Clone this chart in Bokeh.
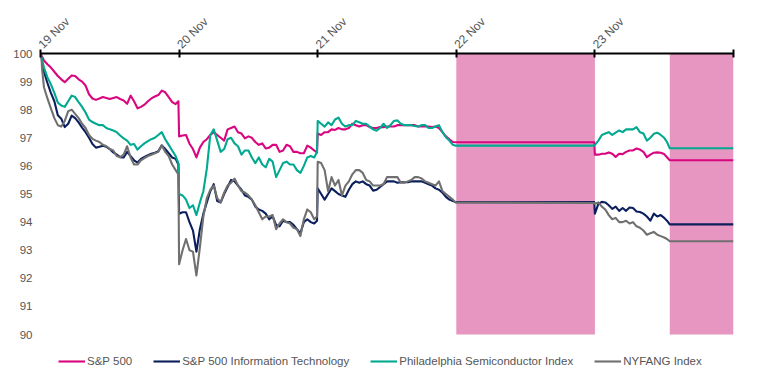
import math
from bokeh.plotting import figure
from bokeh.models import (Range1d, FixedTicker, Legend, LegendItem,
                          CustomJSTickFormatter)
from bokeh.embed import file_html
from bokeh.resources import INLINE

# ---------------- data ----------------
DAY_LABELS = ["19 Nov", "20 Nov", "21 Nov", "22 Nov", "23 Nov", ""]
DAY_TICKS = [0, 1, 2, 3, 4, 5]
Y_TICKS = [90, 91, 92, 93, 94, 95, 96, 97, 98, 99, 100]

# market closed periods (days since 19 Nov open)
CLOSED_START = [3.0, 4.54]
CLOSED_END = [4.0, 5.0]

# intraday sampling points within a full session (fraction of the day)
SESSION = [0.0, 0.025, 0.05, 0.075, 0.1, 0.125, 0.15, 0.175, 0.2, 0.225,
           0.25, 0.275, 0.3, 0.325, 0.35, 0.375, 0.4, 0.425, 0.45, 0.475,
           0.5, 0.525, 0.55, 0.575, 0.6, 0.625, 0.65, 0.675, 0.7, 0.725,
           0.75, 0.775, 0.8, 0.825, 0.85, 0.875, 0.9, 0.925, 0.95, 0.975,
           0.995]
# 22 Nov: market closed (Thanksgiving) -> last close carried to day end
T22 = [3.995]
# 23 Nov: half-day session, then closed
T23 = [4.0, 4.025, 4.05, 4.075, 4.1, 4.125, 4.15, 4.175, 4.2, 4.225, 4.25,
       4.275, 4.3, 4.325, 4.35, 4.375, 4.4, 4.425, 4.45, 4.475, 4.5, 4.52,
       4.54, 5.0]
TIME = ([0 + f for f in SESSION] + [1 + f for f in SESSION]
        + [2 + f for f in SESSION] + T22 + T23)

SERIES = ["S&P 500", "S&P 500 Information Technology",
          "Philadelphia Semiconductor Index", "NYFANG Index"]

SPX = (
    [100, 99.75, 99.62, 99.5, 99.35, 99.2, 99.08, 98.98, 99.1, 99.22,
     99.2, 99.08, 99.0, 98.86, 98.55, 98.4, 98.35, 98.4, 98.45, 98.42,
     98.38, 98.42, 98.45, 98.38, 98.33, 98.21, 98.5, 98.3, 98.05, 98.1,
     98.18, 98.3, 98.4, 98.47, 98.52, 98.68, 98.62, 98.45, 98.27, 98.2,
     98.3]
    + [97.05, 97.08, 97.1, 96.79, 96.6, 96.3, 96.65, 96.85, 96.95, 97.1,
       97.2, 97.1, 97.0, 96.9, 97.3, 97.35, 97.4, 97.2, 97.15, 96.98,
       97.05, 97.0, 96.85, 96.75, 96.8, 96.62, 96.65, 96.75, 96.75, 96.5,
       96.55, 96.75, 96.7, 96.5, 96.5, 96.45, 96.45, 96.72, 96.65, 96.55,
       96.48]
    + [97.15, 97.1, 97.2, 97.2, 97.3, 97.28, 97.35, 97.3, 97.3, 97.35,
       97.5, 97.45, 97.4, 97.45, 97.45, 97.38, 97.35, 97.35, 97.38, 97.38,
       97.4, 97.4, 97.4, 97.45, 97.45, 97.45, 97.45, 97.45, 97.45, 97.4,
       97.4, 97.4, 97.4, 97.38, 97.4, 97.35, 97.2, 97.05, 96.95, 96.85,
       96.84]
    + [96.84]
    + [96.4, 96.4, 96.43, 96.43, 96.48, 96.43, 96.32, 96.43, 96.42, 96.5,
       96.55, 96.55, 96.62, 96.58, 96.5, 96.31, 96.4, 96.47, 96.48, 96.47,
       96.42, 96.31, 96.2, 96.2])

SPX_IT = (
    [100, 99.35, 98.95, 98.6, 98.3, 97.8, 97.68, 97.38, 97.5, 97.79,
     97.7, 97.55, 97.36, 97.2, 97.0, 96.78, 96.65, 96.68, 96.72, 96.68,
     96.6, 96.48, 96.4, 96.31, 96.3, 96.5, 96.35, 96.2, 96.12, 96.25,
     96.32, 96.38, 96.43, 96.47, 96.52, 96.73, 96.6, 96.45, 96.3, 96.25,
     96.05]
    + [94.3, 94.35, 94.35, 94.0, 93.7, 92.95, 93.75, 94.3, 94.7, 95.1,
       95.35, 94.75, 94.7, 95.0, 95.25, 95.5, 95.45, 95.3, 95.15, 94.95,
       94.9, 94.8, 94.55, 94.45, 94.4, 94.3, 94.1, 94.2, 93.9, 93.85,
       94.05, 94.0, 94.0, 93.9, 93.75, 93.6, 94.0, 94.1, 94.0, 93.95,
       94.05]
    + [95.2, 95.0, 94.8, 95.0, 95.2, 95.1, 95.0, 94.95, 94.9, 95.15,
       95.35, 95.45, 95.4, 95.45, 95.35, 95.3, 95.12, 95.15, 95.25, 95.35,
       95.45, 95.45, 95.45, 95.4, 95.42, 95.42, 95.42, 95.45, 95.45, 95.45,
       95.45, 95.4, 95.35, 95.3, 95.2, 95.15, 95.05, 94.9, 94.8, 94.75,
       94.71]
    + [94.71]
    + [94.3, 94.65, 94.72, 94.7, 94.6, 94.47, 94.55, 94.4, 94.5, 94.4,
       94.52, 94.5, 94.38, 94.36, 94.3, 94.2, 94.05, 94.3, 94.2, 94.25,
       94.15, 94.05, 93.92, 93.92])

SOX = (
    [100, 99.5, 99.15, 98.9, 98.6, 98.25, 98.15, 98.1, 98.3, 98.5,
     98.45, 98.27, 98.1, 97.9, 97.65, 97.56, 97.5, 97.45, 97.45, 97.35,
     97.3, 97.26, 97.2, 97.08, 96.98, 96.9, 96.75, 96.78, 96.58, 96.7,
     96.8, 96.88, 96.95, 97.0, 97.1, 97.2, 96.95, 96.75, 96.55, 96.35,
     96.1]
    + [95.0, 94.95, 94.8, 94.5, 94.6, 94.25, 94.7, 95.1, 95.9, 97.1,
       97.3, 96.9, 96.5, 96.6, 96.95, 97.0, 96.8, 96.7, 96.4, 96.55,
       96.55, 96.3, 96.1, 96.3, 96.05, 95.95, 96.25, 96.15, 95.6, 95.85,
       96.1, 96.15, 96.05, 96.05, 95.85, 95.75, 96.0, 96.3, 96.35, 96.3,
       96.5]
    + [97.6, 97.5, 97.4, 97.55, 97.45, 97.65, 97.72, 97.5, 97.4, 97.45,
       97.45, 97.6, 97.55, 97.5, 97.5, 97.4, 97.3, 97.25, 97.35, 97.5,
       97.35, 97.45, 97.6, 97.62, 97.5, 97.45, 97.45, 97.45, 97.42, 97.4,
       97.45, 97.45, 97.35, 97.35, 97.4, 97.45, 97.2, 97.02, 96.9, 96.75,
       96.72]
    + [96.72]
    + [96.75, 96.9, 97.1, 97.15, 97.2, 97.1, 97.18, 97.26, 97.2, 97.3,
       97.3, 97.3, 97.38, 97.2, 97.15, 96.9, 97.0, 97.14, 97.18, 97.1,
       97.0, 96.85, 96.63, 96.63])

NYFANG = (
    [100, 98.8, 98.4, 98.05, 97.7, 97.45, 97.4, 97.6, 97.95, 98.0,
     97.85, 97.7, 97.5, 97.35, 97.1, 96.96, 96.9, 96.85, 96.75, 96.7,
     96.6, 96.55, 96.35, 96.31, 96.4, 96.7, 96.3, 96.05, 96.05, 96.2,
     96.28, 96.35, 96.4, 96.45, 96.5, 96.73, 96.5, 96.35, 96.05, 95.85,
     95.7]
    + [92.5, 93.0, 93.4, 93.0, 92.95, 92.1, 93.1, 94.2, 94.85, 95.15,
       95.3, 94.85, 94.7, 95.05, 95.3, 95.4, 95.55, 95.3, 95.1, 95.05,
       94.95, 94.8, 94.6, 94.35, 94.1, 94.2, 94.2, 94.25, 93.75, 93.95,
       94.1, 94.0, 93.95, 93.8, 93.75, 93.5, 94.1, 94.45, 94.35, 94.1,
       94.2]
    + [96.15, 96.1, 95.85, 95.1, 95.6, 95.3, 95.5, 94.95, 95.3, 95.45,
       95.7, 95.85, 95.85, 95.75, 95.5, 95.45, 95.3, 95.3, 95.3, 95.35,
       95.6, 95.6, 95.6, 95.6, 95.4, 95.4, 95.45, 95.5, 95.6, 95.6,
       95.55, 95.45, 95.4, 95.35, 95.3, 95.45, 95.1, 95.0, 94.9, 94.8,
       94.7]
    + [94.68]
    + [94.65, 94.7, 94.55, 94.45, 94.25, 94.1, 94.15, 94.0, 94.0, 94.05,
       93.95, 94.0, 93.85, 93.8, 93.7, 93.55, 93.6, 93.65, 93.55, 93.5,
       93.45, 93.4, 93.32, 93.32])

for s in (SPX, SPX_IT, SOX, NYFANG):
    assert len(s) == len(TIME), (len(s), len(TIME))

COLORS = ["#D9067F", "#0B1F5C", "#00A98F", "#707070"]
FONT = "Liberation Sans"
TEXT_COLOR = "#555555"

# ---------------- figure ----------------
PX_PER_UNIT = 281 / 10.0          # vertical scale of the value axis
LEGEND_SPACE = 37                 # room kept under the 90 line for legend
y_low = Y_TICKS[0] - LEGEND_SPACE / PX_PER_UNIT

p = figure(frame_width=693, frame_height=281 + LEGEND_SPACE,
           output_backend="svg", toolbar_location=None,
           x_range=Range1d(0, 5), y_range=Range1d(y_low, Y_TICKS[-1]),
           x_axis_location="above",
           min_border_left=40, min_border_right=16,
           min_border_top=53, min_border_bottom=0)
p.outline_line_color = None
p.grid.visible = False

# closed-market shading
p.quad(left=CLOSED_START, right=CLOSED_END, bottom=[Y_TICKS[0]] * 2,
       top=[Y_TICKS[-1]] * 2, fill_color="#E696C1", line_color=None)

renderers = []
for vals, col in zip([SPX, SPX_IT, SOX, NYFANG], COLORS):
    r = p.line(TIME, vals, line_color=col, line_width=2.1,
               line_join="round")
    renderers.append(r)

# x axis (top)
xa = p.xaxis[0]
xa.ticker = FixedTicker(ticks=DAY_TICKS)
xa.formatter = CustomJSTickFormatter(args=dict(labels=DAY_LABELS),
                                     code="return labels[Math.round(tick)] || '';")
xa.major_label_orientation = math.pi / 4
xa.axis_line_color = "black"
xa.axis_line_width = 2
xa.major_tick_line_color = "black"
xa.major_tick_line_width = 2
xa.major_tick_in = 4
xa.major_tick_out = 4
xa.minor_tick_line_color = None
xa.major_label_text_font = FONT
xa.major_label_text_font_size = "12px"
xa.major_label_text_color = TEXT_COLOR
xa.major_label_standoff = 3

# y axis
ya = p.yaxis[0]
ya.ticker = FixedTicker(ticks=Y_TICKS)
ya.axis_line_color = None
ya.major_tick_line_color = None
ya.major_tick_out = 0
ya.major_tick_in = 0
ya.minor_tick_line_color = None
ya.major_label_standoff = 8
ya.major_label_text_font = FONT
ya.major_label_text_font_size = "11.5px"
ya.major_label_text_color = TEXT_COLOR

legend = Legend(items=[LegendItem(label=s, renderers=[r])
                       for s, r in zip(SERIES, renderers)],
                orientation="horizontal", location=(18, 2),
                glyph_width=27, glyph_height=16, label_height=16,
                label_standoff=2, spacing=21, padding=3, margin=0,
                border_line_color=None, background_fill_alpha=0,
                label_text_font=FONT, label_text_font_size="11.5px",
                label_text_color=TEXT_COLOR)
p.add_layout(legend)

open("out.html", "w").write(file_html(p, INLINE))
